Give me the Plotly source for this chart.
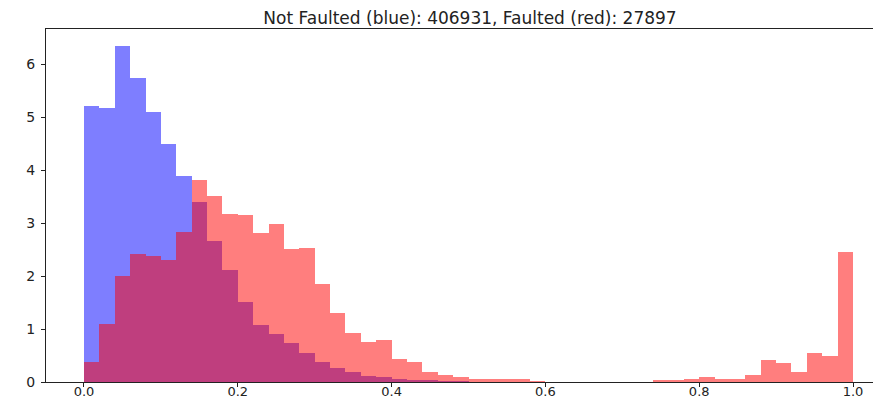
import plotly.graph_objects as go

bin_edges_start = [round(i * 0.02, 2) for i in range(50)]

blue_density = [5.22, 5.18, 6.35, 5.75, 5.10, 4.50, 3.89, 3.40, 2.66, 2.12,
                1.51, 1.08, 0.90, 0.74, 0.54, 0.37, 0.26, 0.18, 0.11, 0.09,
                0.05, 0.03, 0.02, 0.01, 0.005, 0.0, 0.0, 0.0, 0.0, 0.0,
                0.0, 0.0, 0.0, 0.0, 0.0, 0.0, 0.0, 0.0, 0.0, 0.0,
                0.0, 0.0, 0.0, 0.0, 0.0, 0.0, 0.0, 0.0, 0.0, 0.0]

red_density = [0.37, 1.09, 2.00, 2.42, 2.39, 2.31, 2.84, 3.81, 3.52, 3.18,
               3.16, 2.82, 2.98, 2.51, 2.53, 1.86, 1.31, 0.93, 0.76, 0.80,
               0.43, 0.38, 0.18, 0.13, 0.09, 0.06, 0.06, 0.06, 0.06, 0.01,
               0.0, 0.0, 0.0, 0.0, 0.0, 0.0, 0.0, 0.03, 0.03, 0.06,
               0.09, 0.06, 0.06, 0.13, 0.42, 0.36, 0.18, 0.55, 0.50, 2.45]

title_text = "Not Faulted (blue): 406931, Faulted (red): 27897"
x_ticks = [0.0, 0.2, 0.4, 0.6, 0.8, 1.0]
x_tick_labels = ["0.0", "0.2", "0.4", "0.6", "0.8", "1.0"]
y_ticks = [0, 1, 2, 3, 4, 5, 6]

bw = 0.02
centers = [s + bw / 2 for s in bin_edges_start]

fig = go.Figure()
fig.add_trace(go.Bar(x=centers, y=blue_density, width=bw, marker=dict(color="blue", line=dict(width=0)),
                     opacity=0.5, showlegend=False))
fig.add_trace(go.Bar(x=centers, y=red_density, width=bw, marker=dict(color="red", line=dict(width=0)),
                     opacity=0.5, showlegend=False))

W, H = 873, 391
font = "DejaVu Sans"
fig.update_layout(
    width=W, height=H,
    barmode="overlay", bargap=0,
    plot_bgcolor="white", paper_bgcolor="white",
    margin=dict(l=38, r=0, t=21, b=17, autoexpand=False),
    title=dict(text=title_text, x=462 / W, xanchor="center", xref="container",
               y=1 - 10.5 / H, yanchor="middle", yref="container",
               font=dict(family=font, size=17, color="#222")),
    xaxis=dict(range=[-0.0494, 1.0364], tickvals=x_ticks, ticktext=x_tick_labels,
               showgrid=False, zeroline=False, showline=True, linecolor="#222", linewidth=1,
               mirror=True, ticks="outside", ticklen=4, tickcolor="#222", automargin=False,
               ticklabelstandoff=-7,
               tickfont=dict(family=font, size=13, color="#222")),
    yaxis=dict(range=[0, 6.67], tickvals=y_ticks, showgrid=False, zeroline=False,
               showline=True, linecolor="#222", linewidth=1, mirror=False, automargin=False,
               ticks="outside", ticklen=4, tickcolor="#222", ticklabelstandoff=3,
               tickfont=dict(family=font, size=14, color="#222")),
)

fig.write_html("out.html")
